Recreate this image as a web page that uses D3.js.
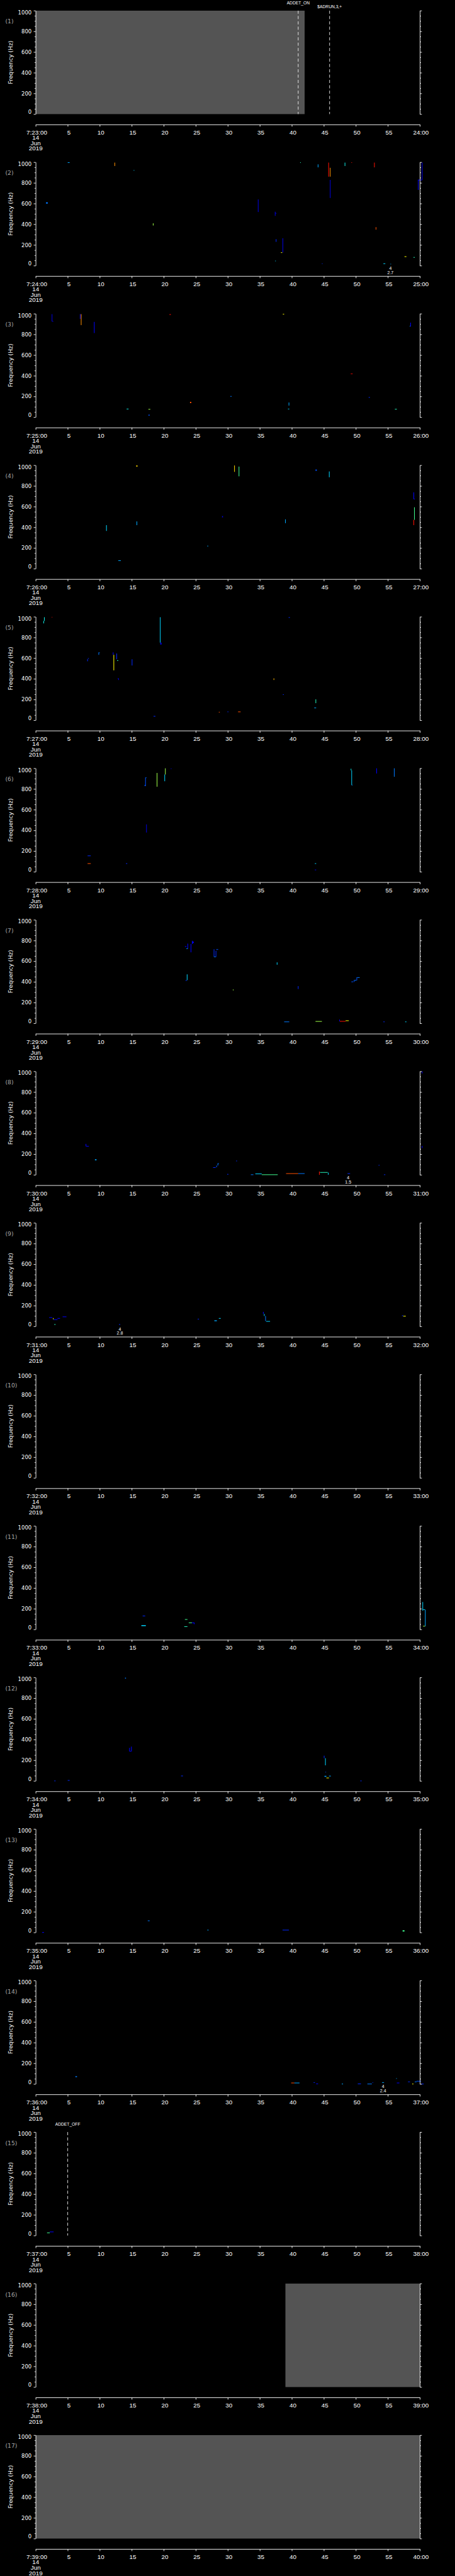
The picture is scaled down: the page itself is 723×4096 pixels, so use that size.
<!DOCTYPE html>
<html>
<head>
<meta charset="utf-8">
<script src="https://cdn.jsdelivr.net/npm/d3@7"></script>
<style>
  html, body { margin: 0; padding: 0; background: #000; }
  svg { display: block; }
</style>
</head>
<body>
<div id="chart"></div>
<script>
// one panel per minute, 7:23 .. 7:39 on 14 Jun 2019
const panelMinutes = [23, 24, 25, 26, 27, 28, 29, 30, 31, 32, 33, 34, 35, 36, 37, 38, 39];
const timeTicks = [0, 5, 10, 15, 20, 25, 30, 35, 40, 45, 50, 55, 60];
const timeLabels = ["", "5", "10", "15", "20", "25", "30", "35", "40", "45", "50", "55", ""];
const dateLines = ["14", "Jun", "2019"];
const freqTicks = [0, 200, 400, 600, 800, 1000];
const freqMinor = [50, 100, 150, 250, 300, 350, 450, 500, 550, 650, 700, 750, 850, 900, 950];

// no-data (gray) blocks: [panel, t0, t1]
const grayBlocks = [[1, 0, 42.0], [16, 39.0, 60], [17, 0, 60]];
// event markers: [panel, t, label, row]
const events = [[1, 41.0, "ADDET_ON", 0], [1, 45.9, "$ADRUN,3,+", 1], [15, 5.0, "ADDET_OFF", 0]];
// small annotations under the plot: [panel, t, line1, line2]
const notes = [[2, 55.4, "4", "2.7"], [8, 48.8, "4", "1.5"], [9, 13.15, "4", "2.8"], [14, 54.25, "4", "2.4"]];

// spectrogram streaks: [t0 (s), t1 (s), f0 (Hz), f1 (Hz), power level 0..1]
const streaks2 = [
  [1.6,1.9,600,612,0.3],[5.0,5.3,994,999,0.35],[12.3,12.4,963,996,0.8],[15.3,15.4,918,924,0.4],
  [18.3,18.4,388,409,0.6],[34.7,34.8,518,640,0.1],[37.35,37.45,481,521,0.1],[37.45,37.6,505,509,0.1],
  [37.4,37.5,42,48,0.4],[37.5,37.6,230,256,0.2],[38.3,38.5,125,129,0.65],[38.55,38.65,127,265,0.1],
  [41.3,41.4,993,999,0.5],[44.05,44.15,950,979,0.35],[44.7,44.8,18,22,0.2],[45.7,45.8,860,996,0.9],
  [45.95,46.05,860,946,0.8],[45.95,46.05,654,829,0.1],[48.25,48.35,963,996,0.45],[49.3,49.4,993,999,0.9],
  [52.85,52.95,950,996,0.9],[53.1,53.2,348,372,0.85],[54.3,54.6,18,22,0.4],[55.4,55.5,14,18,0.35],
  [57.6,57.9,84,90,0.65],[59.0,59.2,79,83,0.5],[59.7,59.8,732,829,0.15],[59.7,60.35,827,831,0.15],
  [60.3,60.4,830,996,0.15]
];
const streaks3 = [
  [2.5,2.6,925,996,0.1],[2.6,2.75,925,929,0.1],[6.9,7.0,950,996,0.1],[7.05,7.15,890,996,0.8],
  [9.1,9.2,813,921,0.15],[14.2,14.5,78,82,0.45],[17.6,17.9,75,79,0.6],[17.6,17.8,15,24,0.25],
  [20.9,21.1,988,996,0.95],[24.1,24.3,136,148,0.85],[30.4,30.6,200,204,0.3],[38.6,38.8,994,999,0.65],
  [39.5,39.6,112,142,0.35],[39.4,39.6,78,82,0.4],[49.2,49.5,418,422,0.95],[52.0,52.2,188,194,0.2],
  [56.1,56.4,76,80,0.5],[58.5,58.6,877,914,0.15],[58.4,58.5,877,882,0.3]
];
const streaks4 = [
  [15.7,15.9,987,998,0.7],[31.0,31.1,936,998,0.7],[31.7,31.8,893,987,0.55],[43.7,43.9,946,959,0.25],
  [45.8,45.9,884,940,0.4],[59.0,59.1,672,738,0.15],[59.1,59.2,672,676,0.15],[59.1,59.2,472,594,0.55],
  [59.0,59.1,421,472,0.9],[11.0,11.1,365,421,0.4],[15.75,15.85,421,457,0.35],[12.9,13.3,77,81,0.35],
  [26.8,26.95,216,222,0.35],[29.1,29.25,496,509,0.1],[38.95,39.05,440,477,0.35]
];
const streaks5 = [
  [1.2,1.3,936,960,0.45],[1.3,1.4,960,996,0.45],[2.5,2.6,994,999,0.95],[8.05,8.15,570,590,0.2],
  [8.15,8.3,596,600,0.2],[9.8,9.9,632,656,0.3],[9.9,10.0,652,656,0.3],[12.05,12.15,632,656,0.15],
  [12.15,12.25,482,632,0.65],[12.6,12.7,590,645,0.2],[12.7,12.9,575,580,0.5],[12.8,13.0,399,405,0.1],
  [12.9,13.0,389,399,0.1],[15.0,15.1,529,589,0.2],[19.4,19.45,750,996,0.4],[19.45,19.65,731,750,0.1],
  [18.4,18.7,37,41,0.2],[28.6,28.75,77,81,0.85],[29.95,30.1,80,84,0.2],[31.6,32.0,80,84,0.85],
  [37.15,37.25,389,405,0.75],[38.6,38.75,247,251,0.2],[39.5,39.7,990,996,0.2],[43.7,43.8,165,202,0.5],
  [43.5,43.8,118,122,0.35]
];
const streaks6 = [
  [17.0,17.1,828,840,0.25],[17.1,17.2,828,912,0.25],[17.2,17.3,908,912,0.3],[18.9,19.0,822,955,0.6],
  [20.1,20.2,875,940,0.4],[20.2,20.3,940,1000,0.6],[21.1,21.2,994,999,0.15],[17.25,17.35,379,458,0.1],
  [8.1,8.6,153,157,0.2],[8.1,8.6,78,82,0.85],[14.1,14.3,78,82,0.2],[43.6,43.8,78,82,0.4],
  [43.6,43.8,17,21,0.15],[49.2,49.3,980,996,0.45],[49.3,49.4,837,980,0.4],[49.4,49.5,837,841,0.3],
  [53.2,53.3,950,1000,0.15],[55.95,56.05,918,1000,0.3]
];
const streaks7 = [
  [23.3,23.55,740,745,0.15],[23.55,23.7,720,724,0.4],[23.7,23.8,720,770,0.15],
  [24.2,24.3,686,766,0.15],[24.4,24.5,766,798,0.15],[24.5,24.7,775,790,0.1],
  [27.8,27.9,641,716,0.2],[27.9,28.1,641,645,0.35],[28.1,28.2,641,700,0.2],[28.2,28.5,710,716,0.25],
  [23.4,23.6,413,417,0.2],[23.6,23.7,417,473,0.4],[30.8,30.9,318,327,0.6],[37.65,37.75,566,589,0.4],
  [40.95,41.05,331,359,0.2],[49.3,49.6,400,404,0.25],[49.7,49.8,400,420,0.25],[49.8,50.1,415,419,0.3],
  [50.1,50.2,415,445,0.25],[50.2,50.6,441,445,0.3],[38.8,39.6,13,17,0.3],[43.7,44.7,17,21,0.6],
  [47.4,47.5,19,36,0.15],[47.5,48.4,18,22,0.9],[48.4,48.9,24,28,0.65],[54.3,54.5,13,17,0.2],
  [57.7,57.9,13,17,0.4]
];
const streaks8 = [
  [7.8,7.9,275,299,0.15],[7.9,8.3,275,279,0.15],[9.25,9.5,140,150,0.35],[27.7,28.1,69,73,0.2],
  [28.2,28.3,73,90,0.25],[28.4,28.5,90,112,0.3],[28.5,28.6,108,112,0.3],[29.9,30.1,4,8,0.2],
  [31.3,31.45,133,137,0.2],[33.6,34.0,0,4,0.3],[34.3,35.3,8,12,0.4],[35.3,37.8,0,4,0.55],
  [39.1,41.0,11,15,0.85],[41.0,42.0,9,15,0.3],[44.25,44.35,0,32,0.9],[44.4,45.6,22,26,0.5],
  [45.65,45.75,0,22,0.4],[48.7,49.1,11,15,0.2],[53.55,53.7,91,95,0.2],[54.4,54.6,0,4,0.2],
  [60.3,60.4,980,1000,0.15],[60.3,60.4,258,280,0.15]
];
const streaks9 = [
  [2.1,2.6,84,88,0.15],[2.7,2.8,68,80,0.65],[2.8,3.4,64,68,0.15],[3.4,3.8,76,80,0.15],
  [4.2,4.8,91,95,0.15],[2.9,3.1,17,21,0.5],[13.0,13.2,17,21,0.2],[25.3,25.5,69,73,0.2],
  [27.9,28.3,50,58,0.35],[28.6,28.9,75,80,0.4],[35.5,35.6,120,140,0.15],[35.65,35.75,100,120,0.4],
  [35.85,35.95,50,100,0.3],[36.0,36.6,47,51,0.4],[57.2,57.4,100,106,0.2],[57.4,57.8,97,101,0.65]
];
const streaks11 = [
  [16.7,17.1,129,133,0.2],[16.5,17.2,32,41,0.4],[23.3,23.7,95,99,0.55],[23.2,23.7,26,30,0.5],
  [23.9,24.4,63,67,0.55],[24.4,24.7,63,67,0.15],[24.7,24.8,50,67,0.15],[60.4,60.5,181,265,0.4],
  [60.5,60.8,190,194,0.4],[60.8,60.9,30,190,0.35],[60.5,60.8,30,34,0.6]
];
const streaks12 = [
  [13.95,14.1,989,998,0.3],[14.6,14.7,285,320,0.15],[14.7,14.9,285,290,0.15],[14.9,15.0,285,332,0.15],
  [2.9,3.1,0,3,0.2],[5.0,5.3,4,8,0.2],[22.7,23.0,47,51,0.2],[45.0,45.1,220,244,0.2],
  [45.2,45.3,151,220,0.4],[45.25,45.35,84,88,0.25],[45.1,45.4,40,49,0.35],[45.4,45.8,28,32,0.65],
  [45.8,46.1,46,50,0.35],[50.7,50.9,0,3,0.2]
];
const streaks13 = [
  [1.0,1.3,0,3,0.15],[17.5,17.8,112,116,0.3],[26.8,27.0,22,26,0.35],[38.55,39.55,22,26,0.2],
  [57.3,57.6,9,21,0.55]
];
const streaks14 = [
  [6.2,6.45,66,75,0.3],[39.9,40.4,9,13,0.85],[40.4,41.2,9,13,0.35],[43.4,43.6,13,17,0.2],
  [43.8,44.1,0,4,0.15],[47.8,48.0,0,3,0.35],[50.3,50.8,0,4,0.2],[51.8,52.5,0,3,0.3],
  [52.6,52.7,13,17,0.2],[54.1,54.4,13,17,0.35],[56.3,56.4,52,56,0.35],[56.4,56.8,9,13,0.15],
  [58.15,58.45,20,24,0.2],[58.8,59.0,0,3,0.65],[59.2,59.5,20,24,0.3],[59.5,60.2,26,30,0.25],
  [60.2,60.6,0,3,0.2]
];
const streaks15 = [
  [1.77,2.2,25,29,0.55],[2.2,2.8,34,38,0.15]
];
const streaksByPanel = {2: streaks2, 3: streaks3, 4: streaks4, 5: streaks5, 6: streaks6, 7: streaks7,
  8: streaks8, 9: streaks9, 11: streaks11, 12: streaks12, 13: streaks13, 14: streaks14, 15: streaks15};

// drawn in the reference's own pixel space, then scaled down by the viewBox
const W = 1024, H = 5802, pitch = H / 17;
const left = 80.3, right = 945, plotTop = 24, plotH = 233;

const x = d3.scaleLinear().domain([0, 60]).range([left, right]);
const y = d3.scaleLinear().domain([0, 1000]).range([plotH, 0]);
const jet = d3.scaleLinear()
  .domain([0, 0.15, 0.3, 0.42, 0.55, 0.65, 0.8, 0.9, 1])
  .range(["#0000a0", "#0000ff", "#0078ff", "#00e8ff", "#40ff90", "#ffff00", "#ff9000", "#ff1000", "#b00000"]);

const svg = d3.select("#chart").append("svg")
  .attr("width", 723)
  .attr("height", 4096)
  .attr("viewBox", `0 0 ${W} ${H}`);

svg.append("rect").attr("width", W).attr("height", H).attr("fill", "#000");

function whiten(sel, font, size) {
  sel.attr("font-family", font).attr("font-size", size);
  sel.selectAll("path.domain, .tick line").attr("stroke", "#fff").attr("stroke-width", 1.3);
  sel.selectAll("text").attr("fill", "#fff");
}

panelMinutes.forEach((m, i) => {
  const k = i + 1;
  const g = svg.append("g").attr("transform", `translate(0,${plotTop + i * pitch})`);

  // gray no-data blocks
  g.selectAll("rect.gap")
    .data(grayBlocks.filter(d => d[0] === k))
    .join("rect")
    .attr("class", "gap")
    .attr("x", d => x(d[1]))
    .attr("y", 0)
    .attr("width", d => x(d[2]) - x(d[1]))
    .attr("height", plotH)
    .attr("fill", "#545454");

  // spectrogram streaks
  g.selectAll("rect.streak")
    .data(streaksByPanel[k] || [])
    .join("rect")
    .attr("class", "streak")
    .attr("x", d => x(d[0]))
    .attr("y", d => y(d[3]))
    .attr("width", d => Math.max(x(d[1]) - x(d[0]), 1.4))
    .attr("height", d => Math.max(y(d[2]) - y(d[3]), 1.4))
    .attr("fill", d => jet(d[4]));

  // event markers
  const ev = events.filter(d => d[0] === k);
  g.selectAll("line.event")
    .data(ev)
    .join("line")
    .attr("class", "event")
    .attr("x1", d => x(d[1])).attr("x2", d => x(d[1]))
    .attr("y1", 0).attr("y2", plotH)
    .attr("stroke", "#fff")
    .attr("stroke-width", 1.2)
    .attr("stroke-dasharray", "7,5");
  g.selectAll("text.event")
    .data(ev)
    .join("text")
    .attr("class", "event")
    .attr("x", d => x(d[1]))
    .attr("y", d => d[3] === 0 ? -14 : -5)
    .attr("text-anchor", "middle")
    .attr("font-family", "Liberation Sans, Arial, sans-serif")
    .attr("font-size", 9.5)
    .attr("fill", "#fff")
    .text(d => d[2]);

  // annotations below the plot
  notes.filter(d => d[0] === k).forEach(d => {
    [d[2], d[3]].forEach((s, j) => {
      g.append("text")
        .attr("x", x(d[1]))
        .attr("y", plotH + 9.3 + j * 9.8)
        .attr("text-anchor", "middle")
        .attr("font-family", "Liberation Sans, Arial, sans-serif")
        .attr("font-size", 10)
        .attr("fill", "#fff")
        .text(s);
    });
  });

  // left axis, major + minor
  const yl = g.append("g")
    .attr("transform", `translate(${left},0)`)
    .call(d3.axisLeft(y).tickValues(freqTicks).tickSize(4.5).tickSizeOuter(0).tickPadding(4.8).tickFormat(d => String(d)));
  whiten(yl, "DejaVu Sans, sans-serif", 12);
  yl.selectAll(".tick text")
    .attr("transform", d => d === 1000 ? "translate(0,4)" : d === 0 ? "translate(0,-4.5)" : null);
  const ylm = g.append("g")
    .attr("transform", `translate(${left},0)`)
    .call(d3.axisLeft(y).tickValues(freqMinor).tickSize(2.5).tickFormat(""));
  ylm.select(".domain").remove();
  whiten(ylm, "DejaVu Sans, sans-serif", 12);

  // right axis, no labels
  const yr = g.append("g")
    .attr("transform", `translate(${right},0)`)
    .call(d3.axisRight(y).tickValues(freqTicks).tickSize(4.5).tickSizeOuter(0).tickFormat(""));
  whiten(yr, "DejaVu Sans, sans-serif", 12);
  const yrm = g.append("g")
    .attr("transform", `translate(${right},0)`)
    .call(d3.axisRight(y).tickValues(freqMinor).tickSize(2.5).tickFormat(""));
  yrm.select(".domain").remove();
  whiten(yrm, "DejaVu Sans, sans-serif", 12);

  // time axis, detached below the plot
  const startLabel = `7:${m}:00`, endLabel = `${m + 1}:00`;
  const xa = g.append("g")
    .attr("transform", `translate(0,${plotH + 23.5})`)
    .call(d3.axisBottom(x).tickValues(timeTicks).tickSize(4.7).tickSizeOuter(0).tickPadding(8)
      .tickFormat((d, j) => j === 0 ? startLabel : j === timeTicks.length - 1 ? endLabel : timeLabels[j]));
  whiten(xa, "Liberation Sans, Arial, sans-serif", 14);
  xa.selectAll(".tick text").attr("dx", 2);

  dateLines.forEach((s, j) => {
    g.append("text")
      .attr("x", left)
      .attr("y", plotH + 58 + j * 12.1)
      .attr("text-anchor", "middle")
      .attr("font-family", "Liberation Sans, Arial, sans-serif")
      .attr("font-size", 14)
      .attr("fill", "#fff")
      .text(s);
  });

  // panel number and y title
  g.append("text")
    .attr("x", 12)
    .attr("y", 29)
    .attr("font-family", "DejaVu Sans, sans-serif")
    .attr("font-size", 13)
    .attr("fill", "#a8a8a8")
    .text(`(${k})`);
  g.append("text")
    .attr("transform", `translate(28.5,${plotH / 2}) rotate(-90)`)
    .attr("text-anchor", "middle")
    .attr("font-family", "DejaVu Sans, sans-serif")
    .attr("font-size", 13)
    .attr("fill", "#fff")
    .text("Frequency (Hz)");
});
</script>
</body>
</html>
